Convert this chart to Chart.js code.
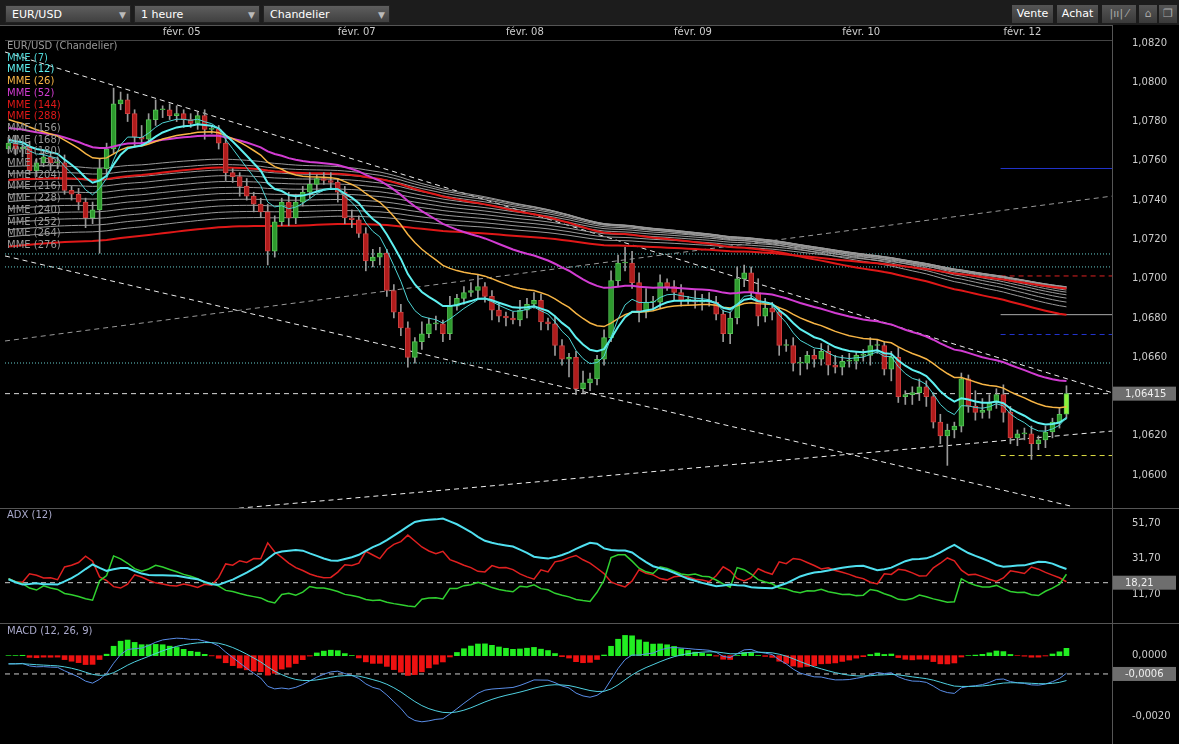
<!DOCTYPE html>
<html><head><meta charset="utf-8">
<script src="https://cdn.jsdelivr.net/npm/chart.js@4/dist/chart.umd.min.js"></script>
<style>
body{margin:0;background:#000;width:1179px;height:744px;overflow:hidden;font-family:"DejaVu Sans",sans-serif;position:relative}
#bar{position:absolute;left:0;top:0;width:1179px;height:25px;background:#1c1c1c}
.dd{position:absolute;top:5px;height:18px;background:linear-gradient(#5e5e5e,#404040);color:#fff;font-size:11px;line-height:18px;padding-left:6px;box-sizing:border-box;border:1px solid #222}
.dd span{position:absolute;right:4px;top:0;color:#bbb;font-size:9px}
.bt{position:absolute;top:5px;height:18px;background:linear-gradient(#555,#3a3a3a);color:#fff;font-size:11px;line-height:18px;text-align:center;box-sizing:border-box}
canvas{position:absolute;left:0}
#leg{position:absolute;left:7px;top:40px;font-size:10px;line-height:11.7px;pointer-events:none}
.lab{position:absolute;left:7px;font-size:10px;color:#aac}
.hl{position:absolute;background:#555}
</style></head><body>
<div id="bar">
<div class="dd" style="left:5px;width:126px">EUR/USD<span>▼</span></div>
<div class="dd" style="left:134px;width:126px">1 heure<span>▼</span></div>
<div class="dd" style="left:263px;width:127px">Chandelier<span>▼</span></div>
<div class="bt" style="left:1012px;width:41px">Vente</div>
<div class="bt" style="left:1057px;width:41px">Achat</div>
<div class="bt" style="left:1102px;width:34px;color:#aaa">|ıı| ⁄</div>
<div class="bt" style="left:1139px;width:18px;color:#aaa">⌂</div>
<div class="bt" style="left:1159px;width:18px;color:#aaa">❐</div>
</div>
<canvas id="c1" width="1179" height="483" style="top:25px"></canvas>
<canvas id="c2" width="1179" height="115" style="top:508px"></canvas>
<canvas id="c3" width="1179" height="119" style="top:623px"></canvas>
<div class="hl" style="left:0;top:508px;width:1179px;height:1px"></div>
<div class="hl" style="left:0;top:623px;width:1179px;height:1px"></div>
<div class="hl" style="left:1112px;top:25px;width:1px;height:719px"></div>
<div class="hl" style="left:0;top:25px;width:1112px;height:1px"></div>
<div id="leg"></div>
<div class="lab" style="top:509px">ADX (12)</div>
<div class="lab" style="top:625px">MACD (12, 26, 9)</div>
<script>
// ---- DATA ----
const firstOpen = 1.0766;
const closes = [
1.0769,1.0766,1.0767,1.0755,1.0759,1.0762,1.0759,1.0759,1.0745,1.0743,
1.0739,1.0731,1.0735,1.0756,1.0766,1.0789,1.0791,1.0784,1.0772,1.0771,
1.0781,1.0786,1.0786,1.0783,1.0784,1.0781,1.0779,1.0783,1.0776,1.0776,
1.0769,1.0754,1.0752,1.0747,1.0742,1.0738,1.0734,1.0714,1.0729,1.0739,
1.0731,1.0739,1.0744,1.0748,1.0751,1.0750,1.0749,1.0744,1.0731,1.0730,
1.0723,1.0709,1.0711,1.0713,1.0694,
1.0683,1.0675,1.0660,1.0668,1.0672,1.0677,1.0677,1.0672,1.0686,1.0690,
1.0693,1.0694,1.0696,1.0691,1.0684,1.0681,1.0680,1.0679,1.0684,1.0687,
1.0689,1.0678,1.0677,1.0666,1.0659,1.0660,1.0644,1.0647,1.0649,1.0659,
1.0670,1.0699,1.0708,1.0708,1.0698,1.0683,1.0688,1.0688,1.0698,1.0696,
1.0693,1.0689,1.0689,1.0688,
1.0689,1.0688,1.0682,1.0672,1.0680,1.0700,1.0703,1.0693,1.0681,1.0685,
1.0683,1.0666,1.0666,1.0657,1.0657,1.0661,1.0659,1.0663,1.0656,1.0655,
1.0658,1.0658,1.0661,1.0661,1.0666,1.0666,1.0654,1.0660,1.0640,1.0641,
1.0642,1.0645,1.0640,1.0627,1.0620,1.0623,1.0625,1.0649,1.0635,1.0632,
1.0633,1.0637,1.0641,1.0632,1.0619,1.0621,1.0621,1.0616,1.0618,1.0622,
1.0627,1.0631,1.06415];
// wick sizes in pips
const wickUp = [3,4,2,3,2,3,2,3,4,2, 3,2,4,5,3,8,4,3,2,6, 3,5,2,3,4,2,3,2,3,2, 2,3,2,2,4,2,3,4,3,2,
5,4,3,6,2,3,4,2,3,4, 2,3,4,3,2,3,4,3,2,6, 3,4,2,5,2,3,4,6,2,3, 4,2,3,5,3,4,3,2,4,3,
2,3,6,3,2,4,5,4,8,6, 5,7,3,4,2,3,4,2,5,3, 4,3,2,3,6,4,3,7,5,3, 2,3,4,3,2,3,4,3,5,3,
4,2,3,4,3,2,3,5,2,3, 4,3,2,4,3,2,3,2,8,6, 4,3,5,3,2,3,4,2,3,2, 3,4];
const wickDn = [2,3,4,2,3,2,4,3,2,3, 4,5,3,22,3,2,3,4,5,3, 2,3,4,2,3,4,2,3,5,2, 3,4,3,5,2,4,3,7,3,2,
4,3,2,3,4,2,3,5,3,4, 2,5,3,4,3, 3,4,5,3,4,2,3,4,3,2, 3,2,4,3,5,3,4,2,3,4, 2,4,3,5,3,9,3,2,4,3,
3,2,3,4,3,5,3,4,3,2, 4,3,2,3,4, 2,3,4,5,3,4,3,5,3,4, 5,3,4,6,3,4,3,5,3,4, 3,4,3,5,4,3,6,3,4,5,
4,5,3,4,15,4,3,3,4,3, 4,3,5,3,4,3,8,3,4,3, 3,2];
const dateLabels = {22:"févr. 05",47:"févr. 07",71:"févr. 08",95:"févr. 09",119:"févr. 10",142:"févr. 12"};
const totalSlots = 158;
const priceTicks = [1.0600,1.0620,1.0640,1.0660,1.0680,1.0700,1.0720,1.0740,1.0760,1.0780,1.0800,1.0820];
const adxTicks = [11.70,31.70,51.70];
const macdTicks = [0,-0.002];
const emaFast = [{p:7,seed:1.0770,c:'#4fd5d5',w:1},{p:12,seed:1.0771,c:'#5ff0f0',w:2},{p:26,seed:1.0782,c:'#f7b545',w:1.5},{p:52,seed:1.0777,c:'#d23cd2',w:2}];
const emaRed = [{p:144,seed:1.0750},{p:288,seed:1.0716}];
const fanPeriods = [156,168,180,192,204,216,228,240,252,264,276];
const fanSeedTop = 1.0757, fanSeedBottom = 1.0721;
const macdSeeds = {fast:1.0768, slow:1.0771};
// trend lines [idx1, price1, idx2, price2, color, dash]
const trendLines = [
 [-0.5,1.08154,157.6,1.06419,'#eee',[5,4]],
 [-0.5,1.07116,151.6,1.05843,'#eee',[5,4]],
 [31.6,1.05828,157.6,1.06225,'#eee',[5,4]],
 [-0.5,1.06683,157.6,1.07421,'#999',[5,4]],
 [-0.5,1.07126,157.6,1.07126,'#6cc',[1,2]],
 [-0.5,1.0706,157.6,1.0706,'#6cc',[1,2]],
 [-0.5,1.06571,157.6,1.06571,'#6cc',[1,2]],
 [-0.5,1.06415,157.6,1.06415,'#ddd',[5,4]],
 [141.6,1.07561,157.6,1.07561,'#2233cc',[]],
 [141.6,1.07014,157.6,1.07014,'#d22',[5,4]],
 [141.6,1.06817,157.6,1.06817,'#aaa',[]],
 [141.6,1.06716,157.6,1.06716,'#2233cc',[5,4]],
 [141.6,1.0610,157.6,1.0610,'#dd4',[5,4]]
];
// ---- derived ----
const N = closes.length;
const opens = closes.map((c,i)=> i? closes[i-1] : firstOpen);
const highs = closes.map((c,i)=> Math.max(c,opens[i]) + wickUp[i]*0.0001);
const lows = closes.map((c,i)=> Math.min(c,opens[i]) - wickDn[i]*0.0001);
function ema(src,p,seed){const a=2/(p+1);let v=seed;return src.map(x=>(v=v+a*(x-v)));}
const labels = Array.from({length:totalSlots},(_, i)=> dateLabels[i]||'');
const FONT = {family:'DejaVu Sans',size:10};
const fmt4 = v=> v.toFixed(4).replace('.',',');
function yAxis(min,max,ticks,fmtf){
 return {position:'right',min,max,grid:{display:false},border:{color:'#555'},
  afterBuildTicks:s=>{s.ticks=ticks.map(v=>({value:v}));},
  afterFit:s=>{s.width=67;s.paddingTop=0;s.paddingBottom=0;},
  ticks:{color:'#ccc',font:FONT,padding:12,callback:fmtf}};
}
function boxPlugin(val,text,id){return {id,afterDraw(ch){const y=ch.scales.y.getPixelForValue(val);const c=ch.ctx;c.save();c.fillStyle='#6e6e6e';c.fillRect(1113,y-7,63,14);c.fillStyle='#eee';c.font='10px DejaVu Sans';c.textBaseline='middle';c.fillText(text,1125,y+0.5);c.restore();}};}
function hDash(val,id){return {id,beforeDatasetsDraw(ch){const y=ch.scales.y.getPixelForValue(val);const c=ch.ctx;c.save();c.strokeStyle='#ccc';c.setLineDash([5,4]);c.beginPath();c.moveTo(5,y);c.lineTo(1112,y);c.stroke();c.restore();}};}
const trendPlugin = {id:'trend',beforeDatasetsDraw(ch){const xs=ch.scales.x,ys=ch.scales.y,c=ch.ctx;c.save();c.lineWidth=1;
 trendLines.forEach(t=>{c.strokeStyle=t[4];c.setLineDash(t[5]);c.beginPath();c.moveTo(xs.getPixelForValue(t[0]),ys.getPixelForValue(t[1]));c.lineTo(xs.getPixelForValue(t[2]),ys.getPixelForValue(t[3]));c.stroke();});c.restore();}};
const line=(data,color,w,order)=>({type:'line',data,borderColor:color,borderWidth:w,pointRadius:0,tension:0,order,clip:false});
// ---- main ----
const ds=[];
fanPeriods.forEach((p,k)=>{const seed=fanSeedTop+(fanSeedBottom-fanSeedTop)*k/(fanPeriods.length-1);ds.push(line(ema(closes,p,seed),'#9a9a9a',1,10));});
emaRed.forEach(e=>ds.push(line(ema(closes,e.p,e.seed),'#e01818',2,9)));
ds.push({type:'bar',data:closes.map((c,i)=>[lows[i],highs[i]]),backgroundColor:'#9a9a9a',barThickness:1,grouped:false,order:4});
const up=closes.map((c,i)=>c>=opens[i]);
ds.push({type:'bar',data:closes.map((c,i)=>[opens[i],c]),backgroundColor:up.map((u,i)=>i===N-1?'#8ef03a':(u?'#2e9a2e':'#b01c1c')),borderColor:up.map(u=>u?'#55c455':'#d04040'),borderWidth:1,borderSkipped:false,barThickness:5,grouped:false,minBarLength:1,order:3});
emaFast.forEach(e=>ds.push(line(ema(closes,e.p,e.seed),e.c,e.w,1)));
const noPad={left:5,right:0,top:0,bottom:0};
new Chart(document.getElementById('c1'),{data:{labels,datasets:ds},
 options:{responsive:false,animation:false,events:[],layout:{padding:noPad},
 plugins:{legend:{display:false},tooltip:{enabled:false}},
 scales:{x:{position:'top',offset:true,grid:{display:false,tickLength:0},border:{color:'#444'},
   afterFit:s=>{s.height=15;s.paddingLeft=0;s.paddingRight=0;},
   ticks:{color:'#ccc',font:FONT,autoSkip:false,maxRotation:0,align:'start',padding:2}},
  y:yAxis(1.05833,1.08215,priceTicks,fmt4)}},
 plugins:[trendPlugin,boxPlugin(1.06415,'1,06415','pb')]});
// ---- ADX ----
const P=12;let trS=P*0.0010,pS=P*0.00022,mS=P*0.00022,adxV=22;
const pdi=[],mdi=[],adx=[];
for(let i=0;i<N;i++){const ph=i?highs[i-1]:highs[0],pl=i?lows[i-1]:lows[0],pc=opens[i];
 const tr=Math.max(highs[i]-lows[i],Math.abs(highs[i]-pc),Math.abs(lows[i]-pc));
 const upm=highs[i]-ph,dnm=pl-lows[i];
 const pdm=(upm>dnm&&upm>0)?upm:0,mdm=(dnm>upm&&dnm>0)?dnm:0;
 trS=trS-trS/P+tr;pS=pS-pS/P+pdm;mS=mS-mS/P+mdm;
 const p=100*pS/trS,m=100*mS/trS;pdi.push(p);mdi.push(m);
 const dx=(p+m)?100*Math.abs(p-m)/(p+m):0;adxV=(adxV*(P-1)+dx)/P;adx.push(adxV);}
new Chart(document.getElementById('c2'),{data:{labels,datasets:[line(mdi,'#e02020',1.5,3),line(pdi,'#30d030',1.5,2),line(adx,'#50e0f0',2,1)]},
 options:{responsive:false,animation:false,events:[],layout:{padding:noPad},plugins:{legend:{display:false},tooltip:{enabled:false}},
 scales:{x:{display:false,offset:true},y:yAxis(-4.5,60.3,adxTicks,v=>v.toFixed(2).replace('.',','))}},
 plugins:[hDash(18.21,'h2'),boxPlugin(18.21,'18,21','b2')]});
// ---- MACD ----
const m12=ema(closes,12,macdSeeds.fast),m26=ema(closes,26,macdSeeds.slow);
const macd=m12.map((v,i)=>v-m26[i]);
const sig=ema(macd,9,macd[0]);
const hist=macd.map((v,i)=>v-sig[i]);
new Chart(document.getElementById('c3'),{data:{labels,datasets:[
 {type:'bar',data:hist,backgroundColor:hist.map(h=>h>=0?'#22ee22':'#ee1111'),barThickness:5,order:3},
 line(macd,'#5a8ee8',1,2),line(sig,'#4fd0e0',1,1)]},
 options:{responsive:false,animation:false,events:[],layout:{padding:noPad},plugins:{legend:{display:false},tooltip:{enabled:false}},
 scales:{x:{display:false,offset:true},y:yAxis(-0.00283,0.00107,macdTicks,fmt4)}},
 plugins:[hDash(-0.0006,'h3'),boxPlugin(-0.0006,'-0,0006','b3')]});
// legend
const legItems=[['EUR/USD (Chandelier)','#999'],['MME (7)','#4fd5d5'],['MME (12)','#5ff0f0'],['MME (26)','#f7b545'],['MME (52)','#d23cd2'],['MME (144)','#e01818'],['MME (288)','#e01818']].concat(fanPeriods.map(p=>['MME ('+p+')','#999']));
document.getElementById('leg').innerHTML=legItems.map(l=>'<div style="color:'+l[1]+'">'+l[0]+'</div>').join('');
</script></body></html>
